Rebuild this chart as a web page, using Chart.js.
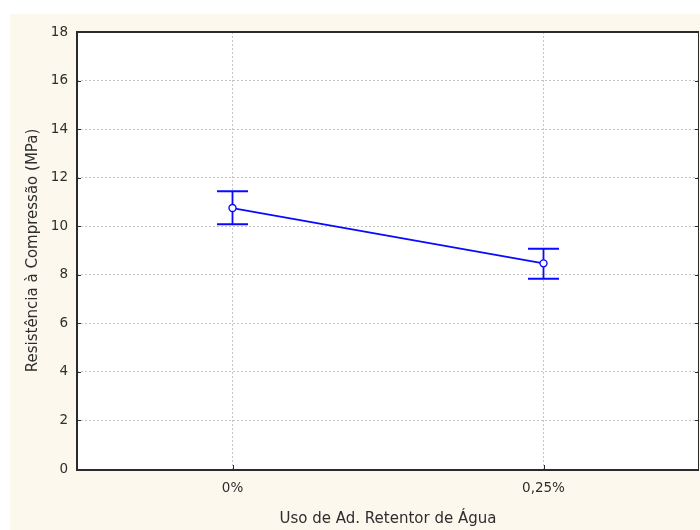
<!DOCTYPE html>
<html>
<head>
<meta charset="utf-8">
<script src="https://cdn.jsdelivr.net/npm/chart.js@4"></script>
<style>
  html, body { margin: 0; padding: 0; background: #ffffff; overflow: hidden; }
  canvas { display: block; }
</style>
</head>
<body>
<canvas id="chart" width="700" height="530"></canvas>
<script>
// Compressive strength by water-retaining admixture dosage
const categories = ['0%', '0,25%'];
const means = [10.75, 8.47];
const lowerBounds = [10.08, 7.84];
const upperBounds = [11.44, 9.07];
const yTicks = [0, 2, 4, 6, 8, 10, 12, 14, 16, 18];

const BLUE = '#0a0aff';
const INK = '#2e2e2e';
const FONT = 'DejaVu Sans';

// Cream page background with a thin white margin at the top/left
const backgroundPlugin = {
  id: 'pageBackground',
  beforeDraw(chart) {
    const ctx = chart.ctx;
    ctx.save();
    ctx.fillStyle = '#ffffff';
    ctx.fillRect(0, 0, chart.width, chart.height);
    ctx.fillStyle = '#fdf8ee';
    ctx.fillRect(10, 14, chart.width - 10, chart.height - 14);
    const a = chart.chartArea;
    ctx.fillStyle = '#ffffff';
    ctx.fillRect(a.left, a.top, a.right - a.left, a.bottom - a.top);
    ctx.restore();
  }
};

// Vertical error bars with caps, drawn under the point markers
const errorBarPlugin = {
  id: 'errorBars',
  beforeDatasetsDraw(chart) {
    const ctx = chart.ctx;
    const x = chart.scales.x, y = chart.scales.y;
    ctx.save();
    ctx.strokeStyle = BLUE;
    categories.forEach((c, i) => {
      const px = x.getPixelForValue(i);
      const top = y.getPixelForValue(upperBounds[i]);
      const bot = y.getPixelForValue(lowerBounds[i]);
      ctx.lineWidth = 1.8;
      ctx.beginPath();
      ctx.moveTo(px, top);
      ctx.lineTo(px, bot);
      ctx.stroke();
      ctx.lineWidth = 2;
      ctx.beginPath();
      ctx.moveTo(px - 15.5, top);
      ctx.lineTo(px + 15.5, top);
      ctx.moveTo(px - 15.5, bot);
      ctx.lineTo(px + 15.5, bot);
      ctx.stroke();
    });
    ctx.restore();
  }
};

// Plot frame with inward tick marks
const framePlugin = {
  id: 'frame',
  afterDraw(chart) {
    const ctx = chart.ctx;
    const a = chart.chartArea;
    const x = chart.scales.x, y = chart.scales.y;
    ctx.save();
    ctx.strokeStyle = '#2b2b2b';
    ctx.lineWidth = 1;
    ctx.beginPath();
    ctx.moveTo(a.right - 0.5, a.top);
    ctx.lineTo(a.right - 0.5, a.bottom);
    ctx.stroke();
    ctx.lineWidth = 2;
    ctx.beginPath();
    ctx.moveTo(a.left, a.top);
    ctx.lineTo(a.right, a.top);
    ctx.moveTo(a.left, a.top - 1);
    ctx.lineTo(a.left, a.bottom + 1);
    ctx.lineTo(a.right, a.bottom + 1);
    ctx.stroke();
    ctx.lineWidth = 1;
    ctx.beginPath();
    yTicks.forEach(v => {
      const py = Math.round(y.getPixelForValue(v)) + 0.5;
      ctx.moveTo(a.left, py);
      ctx.lineTo(a.left + 4, py);
      ctx.moveTo(a.right, py);
      ctx.lineTo(a.right - 4, py);
    });
    categories.forEach((c, i) => {
      const px = Math.round(x.getPixelForValue(i)) + 0.5;
      ctx.moveTo(px, a.bottom);
      ctx.lineTo(px, a.bottom - 4);
    });
    ctx.stroke();
    ctx.restore();
  }
};

new Chart(document.getElementById('chart'), {
  type: 'line',
  data: {
    labels: categories,
    datasets: [{
      data: means,
      borderColor: BLUE,
      borderWidth: 1.8,
      backgroundColor: '#ffffff',
      pointBackgroundColor: '#ffffff',
      pointBorderColor: BLUE,
      pointBorderWidth: 1.4,
      pointRadius: 3.5,
      tension: 0,
      fill: false
    }]
  },
  options: {
    responsive: false,
    devicePixelRatio: 1,
    animation: false,
    layout: { autoPadding: false, padding: { top: 32, right: 1, left: 0, bottom: 0 } },
    plugins: {
      legend: { display: false },
      tooltip: { enabled: false }
    },
    scales: {
      x: {
        type: 'category',
        offset: true,
        grid: {
          offset: false,
          color: '#c4c4c4',
          lineWidth: 1,
          drawTicks: false
        },
        border: { display: false, dash: [2, 2] },
        ticks: {
          color: INK,
          font: { family: FONT, size: 13.5 },
          padding: 11
        },
        title: {
          display: true,
          text: 'Uso de Ad. Retentor de Água',
          color: INK,
          font: { family: FONT, size: 15 },
          padding: { top: 0, bottom: 2 }
        },
        afterFit(scale) {
          scale.height = 61;
          scale.paddingLeft = 0;
          scale.paddingRight = 0;
        }
      },
      y: {
        min: 0,
        max: 18,
        afterBuildTicks(scale) { scale.ticks = yTicks.map(v => ({ value: v })); },
        grid: {
          color: '#c4c4c4',
          lineWidth: 1,
          drawTicks: false
        },
        border: { display: false, dash: [2, 2] },
        ticks: {
          color: INK,
          font: { family: FONT, size: 13.5 },
          padding: 9
        },
        title: {
          display: true,
          text: 'Resistência à Compressão (MPa)',
          color: INK,
          font: { family: FONT, size: 15 },
          padding: { top: 24, bottom: 0 }
        },
        afterFit(scale) {
          scale.width = 77;
          scale.paddingTop = 0;
          scale.paddingBottom = 0;
        }
      }
    }
  },
  plugins: [backgroundPlugin, errorBarPlugin, framePlugin]
});
</script>
</body>
</html>
